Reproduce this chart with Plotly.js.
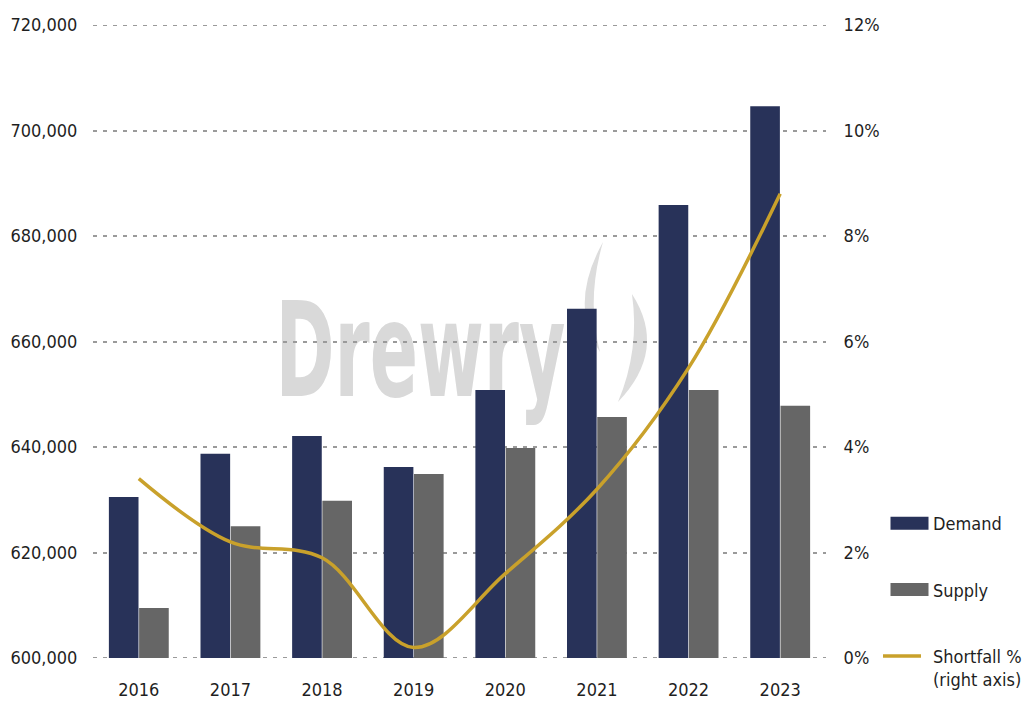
<!DOCTYPE html>
<html>
<head>
<meta charset="utf-8">
<script src="https://cdn.plot.ly/plotly-3.0.1.min.js"></script>
<style>
html,body{margin:0;padding:0;background:#fff;}
#chart{width:1029px;height:704px;}
</style>
</head>
<body>
<div id="chart"></div>
<script>
const years = ['2016','2017','2018','2019','2020','2021','2022','2023'];
const demand = [630500, 638700, 642100, 636200, 650800, 666200, 685900, 704600];
const supply = [609500, 625000, 629800, 634900, 639800, 645700, 650800, 647800];
const shortfallPct = [3.4, 2.2, 1.9, 0.2, 1.6, 3.2, 5.5, 8.8];
const leftRange = [600000, 720000];
const rightRange = [0, 12];

const FONT = 'Liberation Sans Narrow, DejaVu Sans Condensed, Arial Narrow, sans-serif';
const TXT = '#1f1f1f';
const GRID = '#9a9a9a';

// plot area in pixels (for decorative watermark placement)
const ML = 93, MR = 203, MT = 25, MB = 46, W = 1029, H = 704;
const PW = W - ML - MR, PH = H - MT - MB;
function P(x, y){ return ((x - ML) / PW).toFixed(4) + ',' + ((H - MB - y) / PH).toFixed(4); }

const flameLeft = 'M' + P(603,242) + ' Q' + P(568,305) + ' ' + P(600,352) + ' Q' + P(586,300) + ' ' + P(603,242) + ' Z';
const flameRight = 'M' + P(632,294) + ' Q' + P(668,350) + ' ' + P(618,402) + ' Q' + P(640,350) + ' ' + P(632,294) + ' Z';

const traces = [
  {type:'bar', name:'Demand', x:years, y:demand, marker:{color:'#283259'}, legendgroup:'a', yaxis:'y'},
  {type:'bar', name:'Supply', x:years, y:supply, marker:{color:'#666666'}, legendgroup:'b', yaxis:'y'},
  {type:'scatter', mode:'lines', name:'Shortfall %<br>(right axis)', x:years, y:shortfallPct,
   line:{color:'#c9a12b', width:3.5, shape:'spline', smoothing:1}, legendgroup:'c', yaxis:'y2'}
];

function edgeGrid(v){
  return {type:'line', xref:'paper', x0:0, x1:1, yref:'y', y0:v, y1:v, layer:'below',
          line:{color:GRID, width:2, dash:'4px,6px'}};
}

const layout = {
  width:W, height:H,
  margin:{l:ML, r:MR, t:MT, b:MB, autoexpand:false},
  paper_bgcolor:'#ffffff', plot_bgcolor:'rgba(0,0,0,0)',
  font:{family:FONT, size:18, color:TXT},
  bargap:0.34, bargroupgap:0.02,
  showlegend:true,
  legend:{xref:'container', yref:'container', x:878/W, xanchor:'left', y:(H-505)/H, yanchor:'top',
          traceorder:'grouped', tracegroupgap:40, valign:'top', itemwidth:45,
          font:{family:FONT, size:18, color:TXT}, bgcolor:'rgba(0,0,0,0)'},
  xaxis:{type:'category', showgrid:false, showline:false, zeroline:false,
         ticks:'outside', ticklen:15, tickcolor:'rgba(0,0,0,0)',
         tickfont:{family:FONT, size:18, color:TXT}},
  yaxis:{range:leftRange, dtick:20000, tick0:600000, tickformat:',d',
         showgrid:true, gridcolor:GRID, gridwidth:2, griddash:'4px,6px',
         zeroline:false, showline:false, ticks:'outside', ticklen:11,
         tickcolor:'rgba(0,0,0,0)', tickfont:{family:FONT, size:18, color:TXT}},
  yaxis2:{range:rightRange, dtick:2, tick0:0, ticksuffix:'%', overlaying:'y', side:'right',
          showgrid:false, zeroline:false, showline:false, ticks:'outside', ticklen:13,
          tickcolor:'rgba(0,0,0,0)', tickfont:{family:FONT, size:18, color:TXT}},
  shapes:[
    edgeGrid(leftRange[0]), edgeGrid(leftRange[1]),
    {type:'path', xref:'paper', yref:'paper', path:flameLeft, fillcolor:'#dcdcdc', line:{width:0}, layer:'below'},
    {type:'path', xref:'paper', yref:'paper', path:flameRight, fillcolor:'#dcdcdc', line:{width:0}, layer:'below'}
  ],
  annotations:[
    {text:'Drewry', xref:'paper', yref:'paper', x:(420-ML)/PW, y:(H-MB-350)/PH, xanchor:'center', yanchor:'middle',
     showarrow:false, font:{family:FONT, size:132, weight:'bold', color:'#d9d9d9'}}
  ]
};

Plotly.newPlot('chart', traces, layout, {displayModeBar:false, staticPlot:true}).then(function(gd){
  // move watermark beneath the bars, and squeeze it horizontally like the original logo
  const ann = gd.querySelector('.annotation');
  const mainSvg = gd.querySelector('.main-svg');
  const cart = mainSvg.querySelector('.cartesianlayer');
  if (ann && cart) {
    const cx = 420;
    ann.setAttribute('transform', 'translate(' + cx + ',0) scale(0.6,1) translate(' + (-cx) + ',0)');
    mainSvg.insertBefore(ann, cart);
  }
  // wider legend swatches like the original
  gd.querySelectorAll('.legend .legendpoints path').forEach(function(p){
    p.setAttribute('d', 'M-15,6.5H23V-6.5H-15Z');
  });
  gd.querySelectorAll('.legend .legendlines path').forEach(function(p){
    p.setAttribute('d', 'M5,0h38');
  });
});
</script>
</body>
</html>
